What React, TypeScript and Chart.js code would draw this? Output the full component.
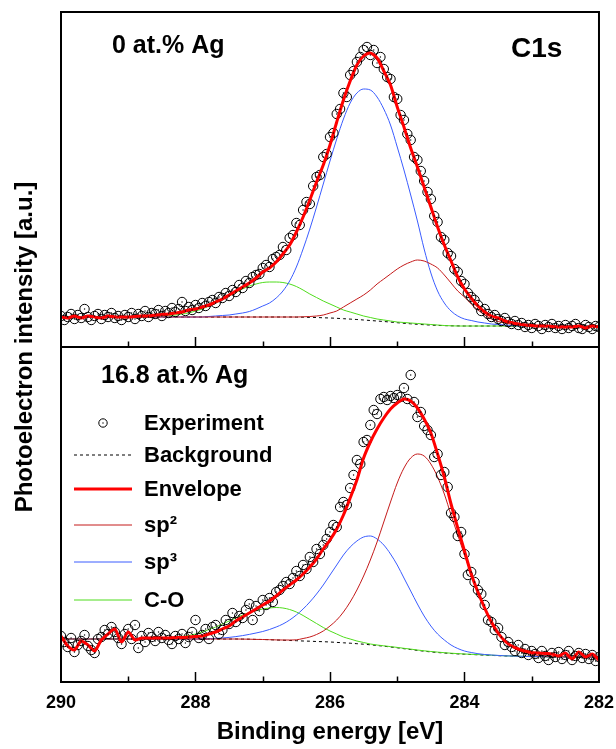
import { useEffect, useRef } from "react";
import { Chart, registerables } from "chart.js";

Chart.register(...registerables);

const FONT = '"Liberation Sans", Arial, Helvetica, sans-serif';

// Energy grids (binding energy, eV) — fitted curves every 0.1 eV, measured points every 0.05 eV
const curveEnergies: number[] = Array.from({ length: 81 }, (_, i) => Math.round((290 - i * 0.1) * 10) / 10);
const pointEnergies: number[] = Array.from({ length: 161 }, (_, i) => Math.round((290 - i * 0.05) * 100) / 100);

const xTickValues = [290, 288, 286, 284, 282];
const minorTickValues = [289, 288, 287, 286, 285, 284, 283];
const panelLabels = ["0 at.% Ag", "16.8 at.% Ag"];
const coreLevelLabel = "C1s";
const seriesLabels = ["Experiment", "Background", "Envelope", "sp\u00B2", "sp\u00B3", "C-O"];

// ---------- Top panel: 0 at.% Ag ----------
const topExperiment = [
  31, 27, 30, 33, 28, 32, 29, 38, 30, 27, 31, 33, 28, 32, 30, 34, 29, 31, 27, 32,
  30, 34, 28, 33, 31, 36, 30, 34, 33, 37, 31, 36, 34, 39, 35, 38, 45, 36, 40, 37,
  42, 39, 44, 41, 45, 47, 44, 50, 49, 54, 51, 57, 55, 62, 59, 66, 64, 70, 72, 73,
  79, 82, 80, 88, 90, 92, 100, 97, 109, 112, 124, 122, 137, 145, 143, 161, 170, 172, 190, 193,
  210, 214, 233, 238, 254, 250, 272, 276, 285, 290, 297, 300, 292, 297, 284, 290, 278, 270, 268, 250,
  248, 232, 227, 213, 207, 190, 187, 176, 166, 155, 148, 131, 125, 110, 107, 94, 91, 78, 75, 66,
  63, 54, 50, 47, 42, 36, 38, 33, 30, 32, 28, 26, 29, 25, 23, 26, 22, 24, 20, 22,
  19, 23, 21, 18, 22, 20, 23, 19, 21, 18, 22, 19, 21, 23, 19, 18, 22, 20, 18, 21,
  20,
];
const topEnvelope = [
  30, 29, 31, 29, 31, 30, 29, 31, 30, 30,
  30, 30.5, 31, 31, 32, 32.5, 33, 34, 35, 37,
  38, 40, 42, 45, 48, 52, 56, 60, 64, 69,
  75, 79, 85, 93, 102, 115, 130, 147, 165, 182,
  202, 225, 247, 266, 282, 291, 294, 289, 276, 262,
  240, 220, 199, 180, 160, 140, 120, 102, 86, 70,
  58, 49, 41, 35, 31, 29, 26, 24.5, 23, 22,
  21.5, 21, 21, 20.5, 20, 20, 20, 21, 19, 21,
  20,
];
const topBackground = [
  30, 30, 30, 30, 30, 30, 30, 30, 30, 30,
  30, 30, 30, 30, 30, 30, 30, 30, 30, 30,
  30, 30, 30, 30, 30, 30, 30, 30, 30, 30,
  30, 30, 30, 30, 30, 29.9, 29.8, 29.6, 29.5, 29.2,
  29, 28.7, 28.3, 27.9, 27.5, 27, 26.5, 26, 25.5, 24.9,
  24.3, 23.7, 23.2, 22.7, 22.3, 21.9, 21.6, 21.4, 21.2, 21.1,
  21, 21, 21, 21, 21, 21, 21, 21, 21, 21,
  21, 21, 21, 21, 21, 21, 21, 21, 21, 21,
  21,
];
const topSp2 = [
  30, 30, 30, 30, 30, 30, 30, 30, 30, 30,
  30, 30, 30, 30, 30, 30, 30, 30, 30, 30,
  30, 30, 30, 30, 30, 30, 30, 30, 30, 30,
  30, 30, 30, 30, 30, 30, 30.2, 30.5, 31, 32,
  34, 36, 40, 44, 48, 52, 57, 63, 68, 73,
  78, 82, 85, 87, 86, 83, 79, 72, 64, 56,
  50, 43, 37, 32, 28, 25.5, 24, 22.8, 22, 21.4,
  21, 21, 21, 21, 21, 21, 21, 21, 21, 21,
  21,
];
const topSp3 = [
  30, 30, 30, 30, 30, 30, 30, 30, 30, 30,
  30, 30, 30, 30, 30, 30, 30, 30, 30, 30,
  30, 30, 30.5, 31, 31.5, 32, 33, 34, 35.5, 38,
  41, 44, 49, 56, 66, 80, 98, 118, 140, 163,
  186, 208, 228, 244, 254, 258, 257, 250, 238, 222,
  200, 177, 152, 126, 98, 74, 56, 44, 36, 31,
  28, 26.5, 25, 24, 23, 22.5, 22, 21.5, 21, 21,
  21, 21, 21, 21, 21, 21, 21, 21, 21, 21,
  21,
];
const topCO = [
  30, 30, 30, 30, 30, 30, 30, 30, 30, 30,
  30, 30, 30, 30, 30.5, 31, 31.5, 32, 33, 34,
  36, 38, 41, 44, 47.5, 51, 54.5, 58, 61, 63,
  64.5, 65, 65, 64.5, 63, 60.5, 57, 53, 49.5, 46,
  43, 40, 37, 35, 33, 31, 29.5, 28, 27, 26,
  25, 24.5, 24, 23.5, 23, 22.5, 22, 21.5, 21.2, 21,
  21, 21, 21, 21, 21, 21, 21, 21, 21, 21,
  21, 21, 21, 21, 21, 21, 21, 21, 21, 21,
  21,
];

// ---------- Bottom panel: 16.8 at.% Ag ----------
const bottomExperiment = [
  46, 40, 35, 44, 30, 37, 41, 47, 36, 32, 29, 43, 45, 52, 48, 55, 50, 44, 38, 48,
  53, 43, 57, 34, 46, 40, 49, 45, 41, 50, 44, 47, 42, 38, 46, 43, 48, 39, 45, 50,
  62, 44, 47, 53, 43, 55, 57, 48, 52, 62, 58, 69, 60, 66, 64, 72, 78, 62, 76, 71,
  82, 77, 84, 80, 90, 92, 96, 100, 98, 104, 111, 106, 117, 113, 125, 120, 133, 128, 137, 143,
  150, 157, 155, 175, 180, 177, 194, 207, 222, 218, 240, 242, 257, 272, 268, 283, 285, 282, 286, 284,
  287, 285, 294, 283, 307, 280, 265, 270, 256, 252, 247, 225, 228, 207, 210, 195, 169, 165, 146, 150,
  128, 107, 110, 100, 92, 88, 77, 62, 60, 52, 54, 45, 37, 40, 35, 31, 37, 29, 33, 27,
  31, 28, 24, 31, 26, 22, 29, 25, 30, 23, 27, 31, 22, 26, 29, 24, 28, 23, 27, 21,
  25,
];
const bottomEnvelope = [
  46, 36, 32, 41, 37, 31, 42, 48, 53, 40,
  50, 42, 44, 44, 44, 44, 44, 44.5, 44.5, 45,
  45.5, 46, 48, 50, 53, 56, 61, 65, 69, 73,
  77, 81, 86, 92, 97, 102, 108, 115, 123, 133,
  142, 153, 167, 184, 202, 224, 240, 253, 264, 273,
  279, 283, 281, 274, 263, 249, 228, 205, 178, 154,
  131, 108, 90, 74, 60, 49, 41, 36, 33, 31,
  29.5, 29, 28.5, 28, 26, 29, 23, 30, 25, 28,
  22,
];
const bottomBackground = [
  43, 43, 43, 43, 43, 43, 43, 43, 43, 43,
  43, 43, 43, 43, 43, 43, 43, 43, 43, 43,
  43, 43, 43, 43, 43, 43, 43, 42.9, 42.8, 42.6,
  42.5, 42.3, 42, 41.8, 41.5, 41.3, 41, 40.8, 40.5, 40.3,
  40, 39.6, 39.2, 38.8, 38.3, 37.8, 37.2, 36.5, 35.8, 35,
  34.2, 33.3, 32.5, 31.6, 30.8, 30.1, 29.5, 29, 28.5, 28.1,
  27.8, 27.5, 27.2, 26.9, 26.6, 26.3, 26.1, 25.9, 25.7, 25.5,
  25.4, 25.3, 25.2, 25.1, 25, 25, 25, 25, 25, 25,
  25,
];
const bottomSp2 = [
  43, 43, 43, 43, 43, 43, 43, 43, 43, 43,
  43, 43, 43, 43, 43, 43, 43, 43, 43, 43,
  43, 43, 43, 43, 43, 43, 43, 42.9, 42.8, 42.6,
  42.5, 42.3, 42.1, 42, 42, 42.2, 43.5, 45, 47.5, 51,
  56, 62, 70, 80, 92, 106, 122, 140, 160, 180,
  199, 214, 224, 228, 226, 218, 205, 188, 167, 147,
  127, 108, 90, 74, 60, 49, 41, 35.5, 31.5, 29,
  27.5, 26.5, 26, 25.5, 25.3, 25.1, 25, 25, 25, 25,
  25,
];
const bottomSp3 = [
  43, 43, 43, 43, 43, 43, 43, 43, 43, 43,
  43, 43, 43, 43, 43, 43, 43, 43, 43, 43,
  43, 43.1, 43.3, 43.6, 44, 44.6, 45.4, 46.4, 47.6, 49,
  50.5, 52.5, 55, 58, 62, 67, 73, 80, 88, 97,
  107, 117, 127, 135, 141, 145, 146, 143, 137, 128,
  117, 104, 91, 78, 66, 56, 48, 42, 37, 33.5,
  31, 29.5, 28.3, 27.5, 27, 26.6, 26.2, 26, 25.8, 25.6,
  25.5, 25.4, 25.3, 25.2, 25.1, 25, 25, 25, 25, 25,
  25,
];
const bottomCO = [
  43, 43, 43, 43, 43, 43, 43, 43, 43, 43,
  43, 43, 43, 43, 43.2, 43.5, 44, 44.5, 45.5, 46.5,
  48, 50, 52.5, 55, 58, 61, 64, 67, 69.5, 71.5,
  73, 74, 74.5, 74, 72.5, 70, 66.5, 62.5, 58.5, 54.5,
  51, 48, 45, 43, 41, 39.5, 38, 37, 36.2, 35.4,
  34.6, 33.7, 32.9, 32, 31.2, 30.5, 29.9, 29.3, 28.8, 28.4,
  28, 27.7, 27.4, 27.1, 26.8, 26.5, 26.2, 26, 25.8, 25.6,
  25.5, 25.4, 25.3, 25.2, 25.1, 25, 25, 25, 25, 25,
  25,
];

const COLORS = {
  envelope: "#ff0000",
  sp2: "#c41a1a",
  sp3: "#3a5cff",
  co: "#4fdc1c",
  background: "#000000",
  point: "#000000",
};

const pair = (xs: number[], ys: number[]) => ys.map((y, i) => ({ x: xs[i], y }));

function lineSet(label: string, xs: number[], ys: number[], axis: string, color: string, width: number, dash: number[] = [], mono = true) {
  return {
    label,
    data: pair(xs, ys),
    yAxisID: axis,
    borderColor: color,
    backgroundColor: color,
    borderWidth: width,
    borderDash: dash,
    pointRadius: 0,
    fill: false,
    tension: mono ? 0 : 0.25,
    cubicInterpolationMode: mono ? "monotone" : "default",
  };
}

function pointSet(label: string, ys: number[], axis: string) {
  return {
    label,
    data: pair(pointEnergies, ys),
    yAxisID: axis,
    showLine: false,
    pointRadius: 4.7,
    pointBorderWidth: 1,
    pointBorderColor: COLORS.point,
    pointBackgroundColor: "rgba(0,0,0,0)",
    borderColor: COLORS.point,
    backgroundColor: "rgba(0,0,0,0)",
  };
}

const decorPlugin = {
  id: "decor",
  afterDatasetsDraw(chart: any) {
    const ctx = chart.ctx;
    ctx.save();
    ctx.fillStyle = "#000";
    [2, 3].forEach((di) => {
      const meta = chart.getDatasetMeta(di);
      meta.data.forEach((p: any) => {
        ctx.fillRect(p.x - 0.6, p.y - 0.6, 1.2, 1.2);
      });
    });
    ctx.restore();
  },
  afterDraw(chart: any) {
    const { ctx, chartArea: a, scales } = chart;
    const xs = scales.x;
    const mid = scales.yTop.getPixelForValue(0);
    ctx.save();
    // frames
    ctx.strokeStyle = "#000";
    ctx.lineWidth = 2;
    ctx.strokeRect(a.left, a.top, a.right - a.left, a.bottom - a.top);
    ctx.beginPath();
    ctx.moveTo(a.left, mid);
    ctx.lineTo(a.right, mid);
    ctx.stroke();
    // inward ticks on the bottom edge of each panel
    ctx.lineWidth = 1.5;
    minorTickValues.forEach((v) => {
      const px = Math.round(xs.getPixelForValue(v)) + 0.5;
      const len = v % 2 === 0 ? 10 : 5.5;
      [a.bottom, mid].forEach((yb) => {
        ctx.beginPath();
        ctx.moveTo(px, yb);
        ctx.lineTo(px, yb - len);
        ctx.stroke();
      });
    });
    // panel labels
    ctx.fillStyle = "#000";
    ctx.textBaseline = "alphabetic";
    ctx.textAlign = "left";
    ctx.font = `bold 25px ${FONT}`;
    ctx.fillText(panelLabels[0], 112, 53);
    ctx.fillText(panelLabels[1], 101, 383);
    ctx.font = `bold 28px ${FONT}`;
    ctx.fillText(coreLevelLabel, 511, 57);

    // legend (bottom panel)
    const rows = [423, 455, 489, 525, 562, 600];
    const legendSets = [3, 11, 1, 5, 7, 9];
    ctx.font = `bold 22px ${FONT}`;
    ctx.textBaseline = "middle";
    legendSets.forEach((di, i) => {
      const ds = chart.data.datasets[di];
      const y = rows[i];
      if (i === 0) {
        ctx.beginPath();
        ctx.strokeStyle = "#000";
        ctx.lineWidth = 1;
        ctx.arc(103, y, 4.2, 0, Math.PI * 2);
        ctx.stroke();
        ctx.fillStyle = "#000";
        ctx.fillRect(102.4, y - 0.6, 1.2, 1.2);
      } else {
        ctx.beginPath();
        ctx.strokeStyle = ds.borderColor;
        ctx.lineWidth = ds.borderWidth;
        ctx.setLineDash(ds.borderDash || []);
        ctx.moveTo(74, y);
        ctx.lineTo(132, y);
        ctx.stroke();
        ctx.setLineDash([]);
      }
      ctx.fillStyle = "#000";
      ctx.fillText(seriesLabels[i], 144, y + 1);
    });
    ctx.restore();
  },
};

export default function App() {
  const ref = useRef<HTMLCanvasElement | null>(null);

  useEffect(() => {
    if (!ref.current) return;
    Chart.defaults.font.family = FONT;
    const chart = new Chart(ref.current, {
      type: "line",
      data: {
        datasets: [
          lineSet("Envelope", curveEnergies, topEnvelope, "yTop", COLORS.envelope, 3, [], false),
          lineSet("Envelope", curveEnergies, bottomEnvelope, "y", COLORS.envelope, 3, [], false),
          pointSet("Experiment", topExperiment, "yTop"),
          pointSet("Experiment", bottomExperiment, "y"),
          lineSet("sp2", curveEnergies, topSp2, "yTop", COLORS.sp2, 1),
          lineSet("sp2", curveEnergies, bottomSp2, "y", COLORS.sp2, 1),
          lineSet("sp3", curveEnergies, topSp3, "yTop", COLORS.sp3, 1),
          lineSet("sp3", curveEnergies, bottomSp3, "y", COLORS.sp3, 1),
          lineSet("C-O", curveEnergies, topCO, "yTop", COLORS.co, 1),
          lineSet("C-O", curveEnergies, bottomCO, "y", COLORS.co, 1),
          lineSet("Background", curveEnergies, topBackground, "yTop", COLORS.background, 1, [3, 3]),
          lineSet("Background", curveEnergies, bottomBackground, "y", COLORS.background, 1, [3, 3]),
        ] as any,
      },
      options: {
        responsive: false,
        animation: false,
        devicePixelRatio: 1,
        events: [],
        layout: { padding: { left: 0, right: 16, top: 12, bottom: 0 } },
        plugins: { legend: { display: false }, tooltip: { enabled: false } },
        scales: {
          x: {
            type: "linear",
            min: 282,
            max: 290,
            reverse: true,
            afterBuildTicks: (s: any) => {
              s.ticks = xTickValues.map((v) => ({ value: v }));
            },
            ticks: {
              color: "#000",
              font: { size: 18, weight: "bold" },
              padding: 2,
              maxRotation: 0,
              autoSkip: false,
              callback: (v: any) => String(v),
            },
            grid: { display: false },
            border: { display: false },
            title: {
              display: true,
              text: "Binding energy [eV]",
              color: "#000",
              font: { size: 24, weight: "bold" },
              padding: { top: 0, bottom: 2 },
            },
            afterFit: (s: any) => {
              s.height = 67;
            },
          },
          y: {
            position: "left",
            min: 0,
            max: 670,
            ticks: { display: false },
            grid: { display: false },
            border: { display: false },
            title: {
              display: true,
              text: "Photoelectron intensity [a.u.]",
              color: "#000",
              font: { size: 24, weight: "bold" },
              padding: { top: 11, bottom: 0 },
            },
            afterFit: (s: any) => {
              s.width = 61;
            },
          },
          yTop: {
            display: false,
            min: -335,
            max: 335,
          },
        },
      } as any,
      plugins: [decorPlugin],
    });
    return () => chart.destroy();
  }, []);

  return (
    <div style={{ position: "absolute", left: 0, top: 0, width: 616, height: 749, background: "#fff" }}>
      <canvas ref={ref} width={616} height={749} style={{ width: 616, height: 749, display: "block" }} />
    </div>
  );
}
